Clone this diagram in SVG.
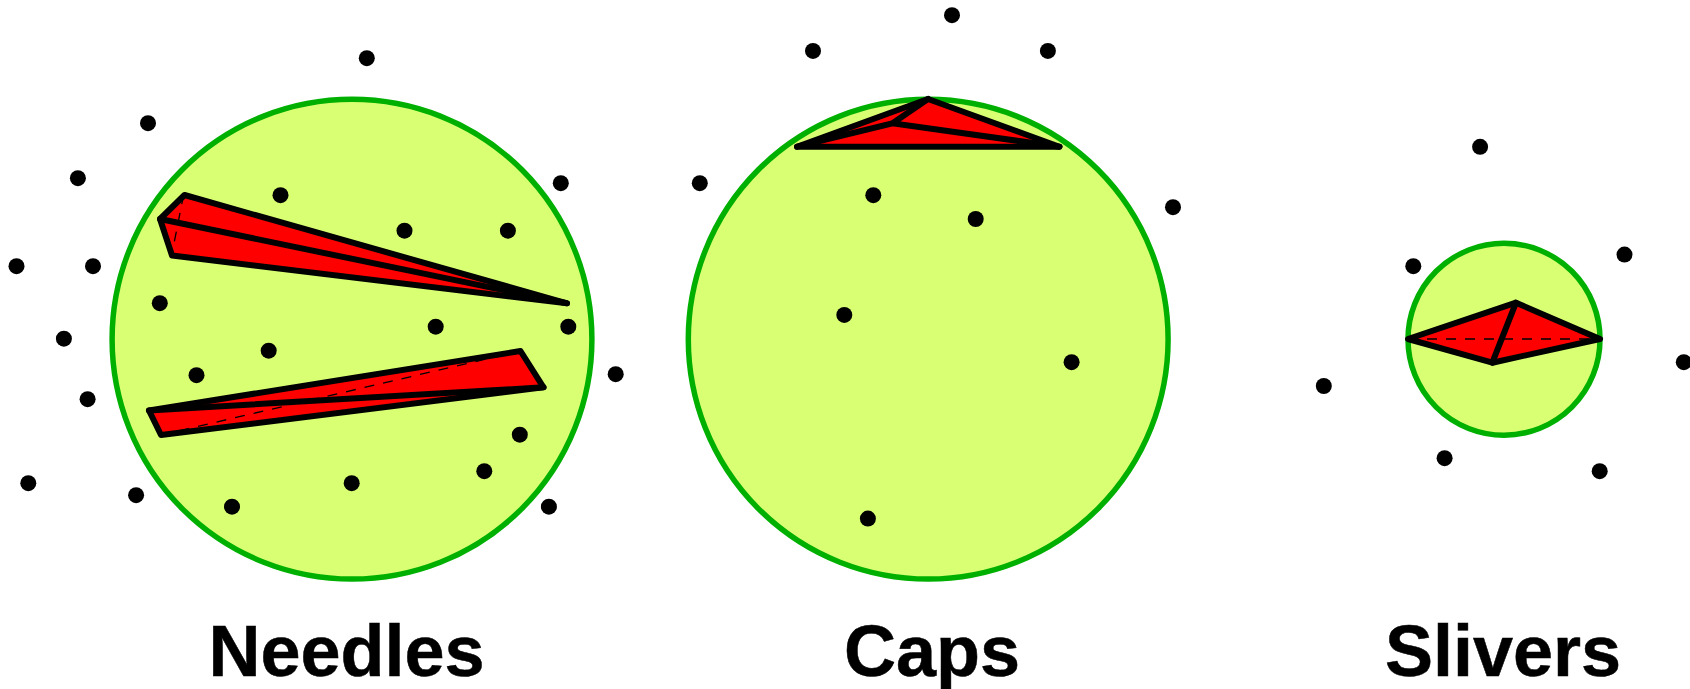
<svg xmlns="http://www.w3.org/2000/svg" width="1690" height="689" viewBox="0 0 1690 689">
<style>
.disc{fill:#d9ff73;stroke:#00b000;stroke-width:5.5}
.mesh{fill:#f00;stroke:#000;stroke-width:6;stroke-linejoin:round;stroke-linecap:round}
.edge{fill:none;stroke:#000;stroke-width:6;stroke-linecap:round}
.hid{fill:none;stroke:#000;stroke-width:1.3;stroke-dasharray:10 9}
.pts{transform:translate(0.3px,0.2px)}
.pts circle{fill:#000;r:8px}
text{font-family:"Liberation Sans",Arial,sans-serif;font-weight:700;font-size:72px;fill:#000;stroke:#000;stroke-width:.5;text-anchor:middle}
</style>
<g id="needles">
<circle class="disc" cx="352" cy="339.2" r="239.9"/>
<path class="mesh" d="M184.5 195L160 219L172 255.5L567 303.3Z"/>
<path class="hid" d="M183.7 194.3L171.7 255"/>
<path class="edge" d="M160 219L567 303.3"/>
<path class="mesh" d="M149 410.5L520.5 351L543.5 387.3L161 435Z"/>
<path class="hid" d="M161 435L520.5 351"/>
<path class="edge" d="M149 410.5L543.5 387.3"/>
<g class="pts"><circle cx="366.5" cy="58"/><circle cx="147.7" cy="123"/><circle cx="77.6" cy="178"/><circle cx="16.2" cy="266"/><circle cx="92.7" cy="266"/><circle cx="63.6" cy="338.5"/><circle cx="87.3" cy="399"/><circle cx="28" cy="483"/><circle cx="135.8" cy="495"/><circle cx="231.7" cy="506.5"/><circle cx="351.4" cy="483"/><circle cx="484" cy="471"/><circle cx="519.5" cy="434.5"/><circle cx="548.6" cy="506.5"/><circle cx="615.4" cy="374"/><circle cx="568" cy="326.5"/><circle cx="560.5" cy="183"/><circle cx="507.6" cy="230.5"/><circle cx="404.2" cy="230.5"/><circle cx="280.2" cy="195"/><circle cx="159.5" cy="303"/><circle cx="435.4" cy="326.5"/><circle cx="268.4" cy="350.5"/><circle cx="196.2" cy="375"/></g>
<text x="346.5" y="675.5">Needles</text>
</g>
<g id="caps">
<circle class="disc" cx="928.2" cy="339.2" r="239.9"/>
<path class="mesh" d="M797 146.7L928 99L1059.5 146.7Z"/>
<path class="edge" d="M928 99L892.5 123.3M797 146.7L892.5 123.3L1059.5 146.7"/>
<g class="pts"><circle cx="951.7" cy="15"/><circle cx="812.7" cy="50.7"/><circle cx="1047.6" cy="50.7"/><circle cx="699.5" cy="183"/><circle cx="1172.7" cy="207"/><circle cx="873" cy="195"/><circle cx="975.4" cy="218.8"/><circle cx="844" cy="314.7"/><circle cx="1071.3" cy="362"/><circle cx="867.6" cy="518.4"/></g>
<text x="932" y="675.5">Caps</text>
</g>
<g id="slivers">
<circle class="disc" cx="1504" cy="339.2" r="96"/>
<path class="mesh" d="M1408 339L1516 302.7L1600 339L1492.3 362.7Z"/>
<path class="hid" d="M1408 339L1600 339"/>
<path class="edge" d="M1516 302.7L1492.3 362.7"/>
<g class="pts"><circle cx="1479.8" cy="146.6"/><circle cx="1413" cy="266"/><circle cx="1624.2" cy="254.4"/><circle cx="1683.5" cy="362"/><circle cx="1323.5" cy="385.8"/><circle cx="1444.3" cy="458"/><circle cx="1599.4" cy="471"/></g>
<text x="1503" y="675.5">Slivers</text>
</g>
</svg>
